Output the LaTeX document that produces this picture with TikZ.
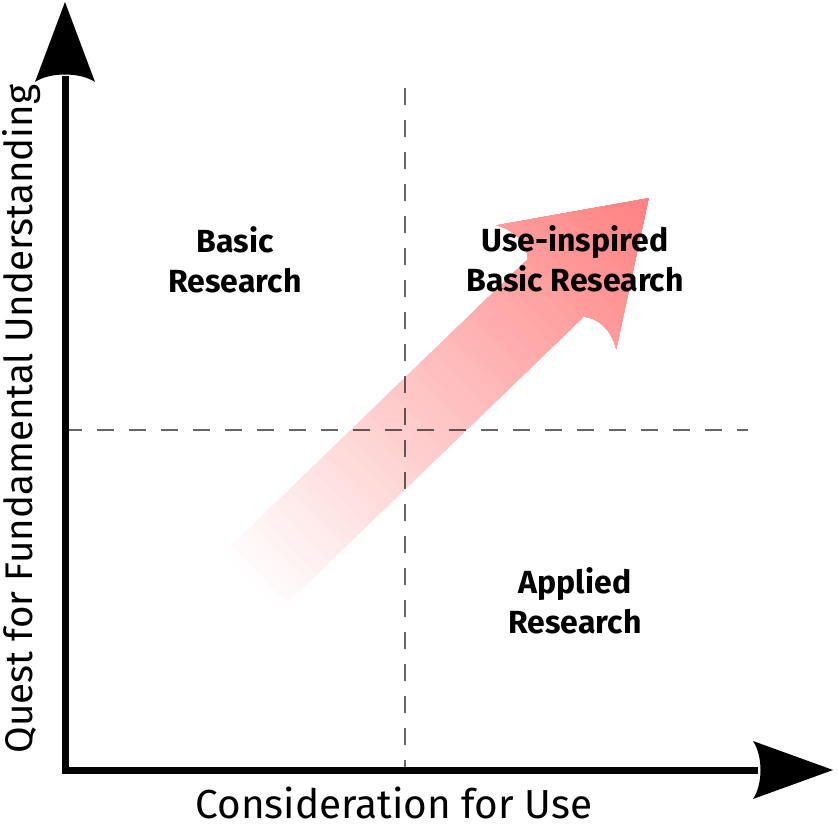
\documentclass[tikz,border=0pt]{standalone}
\usepackage{fontspec}
\setmainfont{Fira Sans}
\begin{document}
\begin{tikzpicture}[x=1pt,y=-1pt,
  axisline/.style={line width=7pt, black, line join=miter},
  axishead/.style={fill=black},
  gridline/.style={line width=2pt, black, opacity=0.6, dash pattern=on 17pt off 15pt},
  quad/.style={font=\bfseries\fontsize{32}{40}\selectfont, align=center, inner sep=0pt},
  axislabel/.style={inner sep=0pt, anchor=base}]
\useasboundingbox (0,0) rectangle (838,826);

% gradient arrow
\begin{scope}[shift={(245,588)}, rotate=44]
  \begin{scope}
    \clip (0,40) -- (432,40) .. controls (445,55) and (440,75) .. (433,86) -- (561,0)
      -- (433,-86) .. controls (440,-75) and (445,-55) .. (432,-40) -- (0,-40) -- cycle;
    \foreach \k in {0,...,57}{
      \pgfmathsetmacro{\pc}{min(50,\k*0.8913)}
      \fill[red!\pc!white] (\k*10,-100) rectangle (580,100);
    }
  \end{scope}
\end{scope}

% named points
\coordinate (O) at (65,770);
\coordinate (Ytip) at (65,2);
\coordinate (Yend) at (65,76);
\coordinate (Xtip) at (833,770);
\coordinate (Xend) at (758,770);
\coordinate (Vtop) at (405,88);
\coordinate (Vbot) at (405,770);
\coordinate (Hl) at (65,430);
\coordinate (Hr) at (748,430);

% dashed quadrant lines
\draw[gridline] (Vtop) -- (Vbot);
\draw[gridline] (Hl) -- (Hr);

% axes
\draw[axisline] (Yend) -- (O) -- (Xend);
\fill[axishead] (Ytip) -- ++(-30,80) .. controls +(15,-10) and +(-15,-10) .. ++(60,0) -- cycle;
\fill[axishead] (Xtip) -- ++(-80,-29) .. controls +(10,15) and +(10,-15) .. ++(0,58) -- cycle;

% labels
\node[quad] (basic) at (235,260) {Basic\\Research};
\node[quad] (useinsp) at (575,259) {Use-inspired\\Basic Research};
\node[quad] (applied) at (575,601) {Applied\\Research};
\node[axislabel, font=\fontsize{40.5}{48}\selectfont] (xlab) at (394,818) {Consideration for Use};
\node[axislabel, rotate=90, font=\fontsize{38.5}{46}\selectfont] (ylab) at (32,419) {Quest for Fundamental Understanding};
\end{tikzpicture}
\end{document}
